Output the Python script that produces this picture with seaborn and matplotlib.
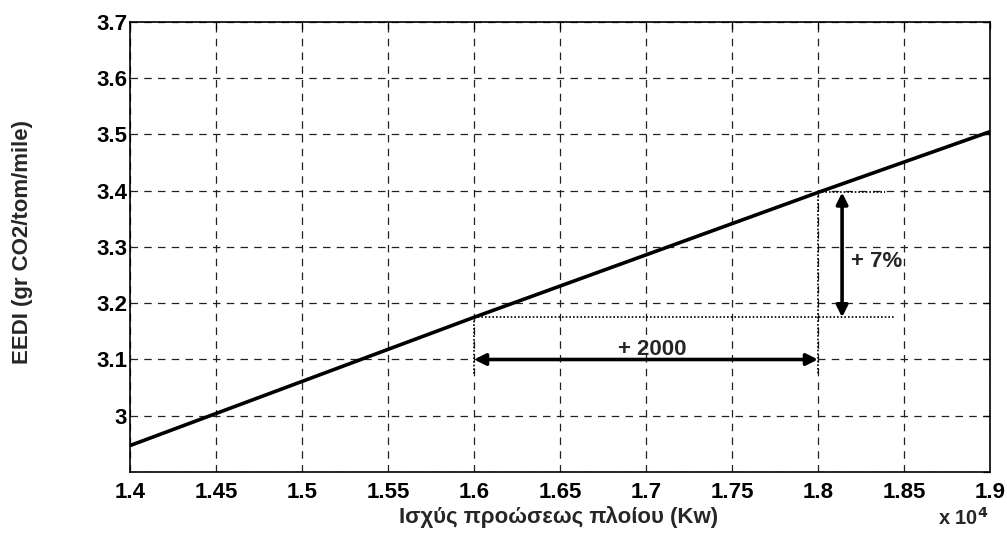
import matplotlib
matplotlib.use("Agg")
import matplotlib.pyplot as plt
import seaborn as sns
import pandas as pd
from matplotlib.ticker import FuncFormatter, MultipleLocator

# Propulsion power (kW) and resulting EEDI
power_kw = [14000, 16000, 18000, 19000]
eedi = [2.947, 3.175, 3.397, 3.505]

# Annotated comparison points
p_low, p_high = 16000, 18000
e_low, e_high = 3.175, 3.397
arrow_h_y = 3.1
arrow_v_x = 18140
dotted_bottom = 3.075
dotted_end_low = 18450
dotted_end_high = 18390

x_label = "Ισχύς προώσεως πλοίου (Kw)"
y_label = "EEDI (gr CO2/tom/mile)"

sns.set_theme(style="white")
plt.rcParams["font.family"] = ["Liberation Sans", "DejaVu Sans"]
plt.rcParams["font.weight"] = "bold"

FS = 16

fig = plt.figure(figsize=(10.07, 5.33), dpi=100)
ax = fig.add_axes([130 / 1007, 1 - 472 / 533, 860 / 1007, 450 / 533])

df = pd.DataFrame({"power": power_kw, "eedi": eedi})
sns.lineplot(data=df, x="power", y="eedi", ax=ax, color="black", lw=2.6)

ax.set_xlim(14000, 19000)
ax.set_ylim(2.9, 3.7)
ax.xaxis.set_major_locator(MultipleLocator(500))
ax.yaxis.set_major_locator(MultipleLocator(0.1))
ax.xaxis.set_major_formatter(FuncFormatter(lambda v, _: f"{v / 1e4:g}"))
ax.yaxis.set_major_formatter(FuncFormatter(lambda v, _: "" if v < 2.95 else f"{v:g}"))

ax.grid(True, color="#222222", linestyle=(0, (6, 5)), linewidth=0.9)
ax.tick_params(direction="in", length=5, width=0.9, top=True, right=True,
               labelsize=FS, colors="black")
ax.tick_params(axis="x", pad=7)
ax.tick_params(axis="y", pad=2)
for lab in ax.get_xticklabels() + ax.get_yticklabels():
    lab.set_fontweight("bold")
for s in ax.spines.values():
    s.set_color("black")
    s.set_linewidth(1.2)

ax.set_xlabel(x_label, fontsize=FS, fontweight="bold")
ax.set_ylabel(y_label, fontsize=FS, fontweight="bold")
ax.xaxis.set_label_coords((559 - 130) / 860, -(506 - 472) / 450)
ax.yaxis.set_label_coords((33 - 130) / 860, 0.511)

# Dotted guide lines
dot = dict(color="black", linestyle=(0, (1, 1.2)), linewidth=1.2)
ax.plot([p_low, dotted_end_low], [e_low, e_low], **dot)
ax.plot([p_high, dotted_end_high], [e_high, e_high], **dot)
ax.plot([p_low, p_low], [e_low, dotted_bottom], **dot)
ax.plot([p_high, p_high], [e_high, dotted_bottom], **dot)

# Double-headed arrows
arrow = dict(arrowstyle="<|-|>", color="black", lw=2.6, mutation_scale=17,
             shrinkA=0, shrinkB=0)
ax.annotate("", xy=(p_low, arrow_h_y), xytext=(p_high, arrow_h_y), arrowprops=arrow)
ax.annotate("", xy=(arrow_v_x, e_high), xytext=(arrow_v_x, e_low), arrowprops=arrow)

ax.text(17035, 3.117, "+ 2000", fontsize=FS, fontweight="bold", ha="center", va="center")
ax.text(18190, 3.274, "+ 7%", fontsize=FS, fontweight="bold", ha="left", va="center")

fig.text(938 / 1007, 1 - 525 / 533, r"x 10$^{\mathbf{4}}$", fontsize=14.5,
         fontweight="bold", ha="left", va="baseline")

fig.savefig("out.png", dpi=100, facecolor="white")
